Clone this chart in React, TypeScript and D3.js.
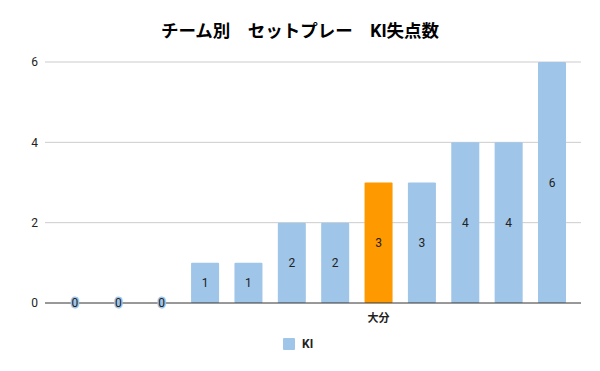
import React from "react";
import * as d3 from "d3";

// team labels: only the highlighted one is printed on the axis
const categories = ["", "", "", "", "", "", "", "大分", "", "", "", ""];
const kiValues = [0, 0, 0, 1, 1, 2, 2, 3, 3, 4, 4, 6];
const highlightTeam = "大分";
const yTicks = [0, 2, 4, 6];
const seriesName = "KI";
const title = "チーム別　セットプレー　KI失点数";

const width = 600;
const height = 371;
const FONT = "Roboto, Arial, 'Noto Sans CJK JP', sans-serif";

const App: React.FC = () => {
  const marginLeft = 45;
  const marginRight = 19;
  const marginTop = 62;
  const marginBottom = 68;

  const x = d3
    .scaleBand<number>()
    .domain(d3.range(categories.length))
    .range([53.3, 573.7])
    .paddingInner(0.354)
    .paddingOuter(0.177);

  const y = d3
    .scaleLinear()
    .domain([0, 6])
    .range([height - marginBottom, marginTop]);

  const blue = "#9fc5e8";
  const orange = "#ff9900";

  return (
    <svg
      width={width}
      height={height}
      style={{ position: "absolute", left: 0, top: 0, background: "#fff" }}
      fontFamily={FONT}
    >
      <text
        x={width / 2}
        y={37}
        textAnchor="middle"
        fontSize={17.5}
        fontWeight="bold"
        fill="#000"
      >
        {title}
      </text>

      {/* grid + y labels */}
      {yTicks.map((t) => (
        <g key={t}>
          {t !== 0 && (
            <line
              x1={marginLeft}
              x2={width - marginRight}
              y1={y(t)}
              y2={y(t)}
              stroke="#cccccc"
              strokeWidth={1}
            />
          )}
          <text
            x={38}
            y={y(t)}
            dy="0.35em"
            textAnchor="end"
            fontSize={12}
            fill="#222"
          >
            {t}
          </text>
        </g>
      ))}

      {/* bars */}
      {kiValues.map((v, i) => {
        const bx = x(i)!;
        const bw = x.bandwidth();
        const h = y(0) - y(v);
        const fill = categories[i] === highlightTeam ? orange : blue;
        return (
          <g key={i}>
            {v > 0 && (
              <rect x={bx} y={y(v)} width={bw} height={h} fill={fill} rx={1} />
            )}
          </g>
        );
      })}

      {/* baseline */}
      <line
        x1={marginLeft}
        x2={width - marginRight}
        y1={y(0)}
        y2={y(0)}
        stroke="#333"
        strokeWidth={1}
      />

      {/* value labels */}
      {kiValues.map((v, i) => {
        const cx = x(i)! + x.bandwidth() / 2;
        const cy = v > 0 ? (y(0) + y(v)) / 2 : y(0);
        return (
          <text
            key={i}
            x={cx}
            y={cy}
            dy="0.35em"
            textAnchor="middle"
            fontSize={12}
            fill="#222"
            stroke={v === 0 ? blue : "none"}
            strokeWidth={v === 0 ? 3 : 0}
            paintOrder="stroke"
            strokeLinejoin="round"
          >
            {v}
          </text>
        );
      })}

      {/* category labels */}
      {categories.map((c, i) =>
        c ? (
          <text
            key={i}
            x={x(i)! + x.bandwidth() / 2}
            y={y(0) + 15}
            dy="0.35em"
            textAnchor="middle"
            fontSize={11}
            fontWeight="bold"
            fill="#222"
          >
            {c}
          </text>
        ) : null
      )}

      {/* legend */}
      <rect x={283} y={338} width={12} height={12} fill={blue} rx={1} />
      <text x={302} y={344} dy="0.35em" fontSize={12} fontWeight="bold" fill="#222">
        {seriesName}
      </text>
    </svg>
  );
};

export default App;
